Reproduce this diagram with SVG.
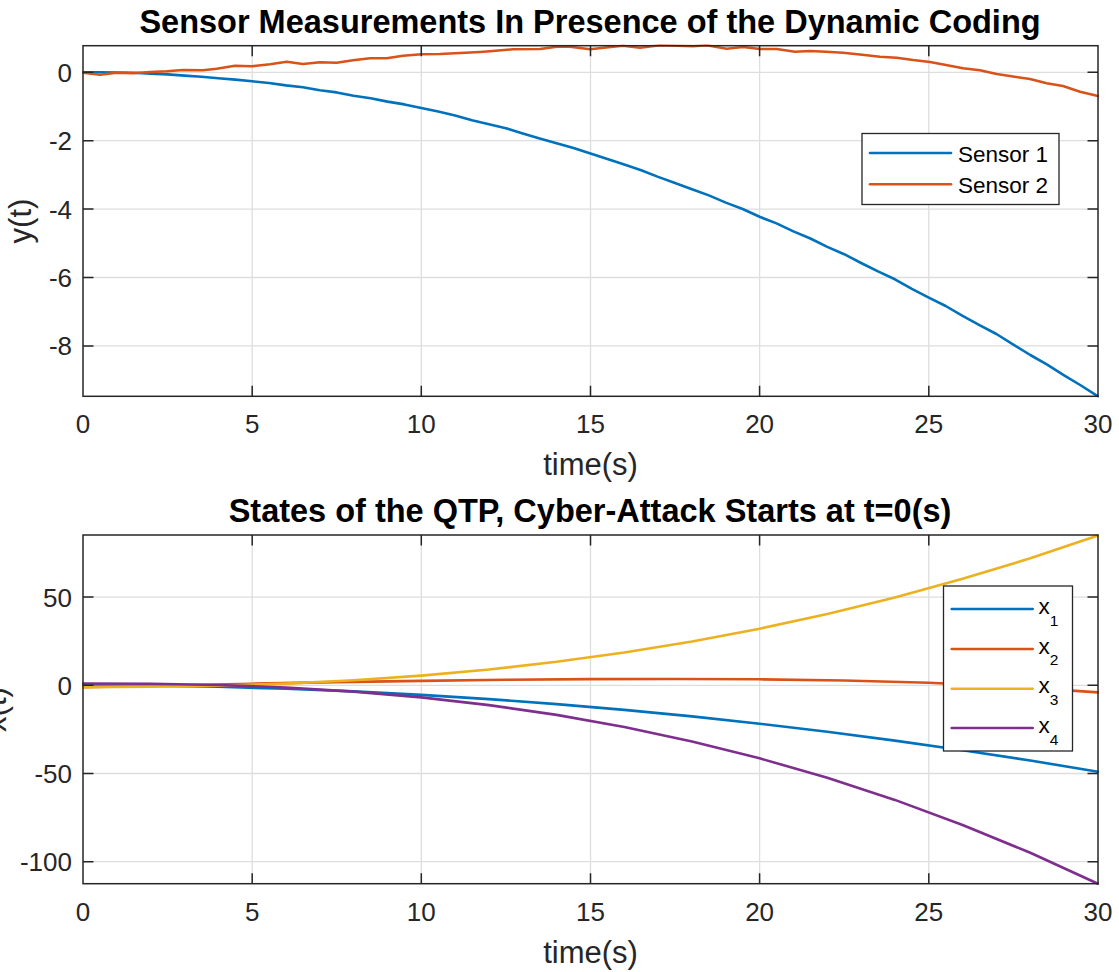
<svg xmlns="http://www.w3.org/2000/svg" width="1119" height="972" viewBox="0 0 1119 972">
  <style>
    text { font-family: "Liberation Sans", Arial, Helvetica, sans-serif; }
    .title { font-size: 32.5px; font-weight: bold; fill: #000; text-anchor: middle; }
    .tick { font-size: 26px; fill: #262626; }
    .xt { text-anchor: middle; }
    .yt { text-anchor: end; }
    .label { font-size: 31px; fill: #262626; text-anchor: middle; }
    .grid { stroke: #dedede; stroke-width: 1.3; fill: none; }
    .axis { stroke: #262626; stroke-width: 1.5; fill: none; }
    .curve { fill: none; stroke-width: 2.6; stroke-linejoin: round; stroke-linecap: round; }
    .legend { fill: #fff; stroke: #262626; stroke-width: 1.3; }
    .legtext { font-size: 22.5px; fill: #000; }
    .c1 { stroke: #0072BD; }
    .c2 { stroke: #D95319; }
    .c3 { stroke: #EDB120; }
    .c4 { stroke: #7E2F8E; }
  </style>
  <defs>
    <clipPath id="clipTop"><rect x="82" y="44.5" width="1017" height="353"/></clipPath>
    <clipPath id="clipBottom"><rect x="82" y="534" width="1017" height="351"/></clipPath>
  </defs>
  <rect width="1119" height="972" fill="#fff"/>

  <!-- upper panel: sensor outputs -->
  <g id="axes-top">
    <text class="title" x="590" y="33">Sensor Measurements In Presence of the Dynamic Coding</text>
    <g id="grid-top">
      <path class="grid" d="M252.2 45.7V396.3M421.3 45.7V396.3M590.5 45.7V396.3M759.6 45.7V396.3M928.8 45.7V396.3M83 72.3H1098M83 140.7H1098M83 209.1H1098M83 277.5H1098M83 345.9H1098"/>
    </g>
    <g id="curves-top" clip-path="url(#clipTop)">
      <polyline class="curve c1" points="83,72.3 100,72.3 116.8,72.6 133.7,72.8 150.7,73.6 167.6,74.4 184.5,75.6 201.4,76.8 218.3,78.2 235.3,79.6 252.2,81.3 269,83 286,85.4 303,87.3 319.8,90.2 336.7,92.4 353.6,95.8 370.6,98.3 387.5,101.6 404.4,104.4 421.3,108 438.2,111.5 455.1,115.4 472,120.3 489,124.3 505.9,128.2 522.8,133.4 539.7,138.4 556.6,143.2 573.5,148 590.5,153.6 607.4,159 624.3,164.6 641.2,170.3 658.1,176.9 675,183 692,189.3 708.9,195.4 725.8,202.6 742.7,209 759.6,216.8 776.5,223.4 793.4,231.4 810.4,238.5 827.3,246.9 844.2,254.2 861.1,263 878,271.4 894.9,279.3 911.9,288.8 928.8,297.6 945.7,306 962.6,315.9 979.5,325.2 996.4,334 1013.4,344.6 1030.3,355 1047.2,364.6 1064.1,375.3 1081,385.5 1098,396.4"/>
      <polyline class="curve c2" points="83,72.7 100,74.7 116.7,72.7 133,73.3 150,72 166.7,71.3 183,70 203,70.3 216.7,68.7 235,65.7 251.7,66.3 270,64.3 286.7,61.7 303,64 320,62.3 336.7,62.7 353,60.3 370,58.3 386.7,58.3 403,55.7 421.7,54.3 440,54 460,53 480,52 490,51.3 513,49.3 540,49 556.7,46.7 570,46.7 590,49.3 606,47.5 623,45.7 640,47.7 660,45.3 676.7,45.7 693,46.3 706.7,45.3 726.7,48.7 743,47 760,49 776.7,49 795,51.7 810,51 826,51.7 843,52.7 860,54.5 880,56.7 896.7,57.7 913,60 930,62 946,65 963,68.3 980,70.3 996.7,74 1013,76.5 1030,79 1046.7,83.3 1063,86 1080,91.7 1098,96"/>
    </g>
    <g id="frame-top">
      <rect class="axis" x="83" y="45.7" width="1015" height="350.6"/>
      <path class="axis" d="M252.2 396.3v-10.5M421.3 396.3v-10.5M590.5 396.3v-10.5M759.6 396.3v-10.5M928.8 396.3v-10.5M252.2 45.7v10.5M421.3 45.7v10.5M590.5 45.7v10.5M759.6 45.7v10.5M928.8 45.7v10.5M83 72.3h10.5M83 140.7h10.5M83 209.1h10.5M83 277.5h10.5M83 345.9h10.5M1098 72.3h-10.5M1098 140.7h-10.5M1098 209.1h-10.5M1098 277.5h-10.5M1098 345.9h-10.5"/>
    </g>
    <g id="ticks-top" class="tick">
      <text class="xt" x="83" y="433">0</text>
      <text class="xt" x="252.2" y="433">5</text>
      <text class="xt" x="421.3" y="433">10</text>
      <text class="xt" x="590.5" y="433">15</text>
      <text class="xt" x="759.6" y="433">20</text>
      <text class="xt" x="928.8" y="433">25</text>
      <text class="xt" x="1098" y="433">30</text>
      <text class="yt" x="72" y="81.8">0</text>
      <text class="yt" x="72" y="150.2">-2</text>
      <text class="yt" x="72" y="218.6">-4</text>
      <text class="yt" x="72" y="287">-6</text>
      <text class="yt" x="72" y="355.4">-8</text>
    </g>
    <text class="label" x="590.5" y="475">time(s)</text>
    <text class="label" transform="translate(31.4,221) rotate(-90)">y(t)</text>
    <g id="legend-top">
      <rect class="legend" x="862" y="133.5" width="197" height="71"/>
      <line class="curve c1" x1="870" y1="153" x2="951" y2="153" stroke-linecap="butt"/>
      <line class="curve c2" x1="870" y1="184.3" x2="951" y2="184.3" stroke-linecap="butt"/>
      <text class="legtext" x="958" y="161.5">Sensor 1</text>
      <text class="legtext" x="958" y="192.8">Sensor 2</text>
    </g>
  </g>

  <!-- lower panel: plant states -->
  <g id="axes-bottom">
    <text class="title" x="590" y="521.7">States of the QTP, Cyber-Attack Starts at t=0(s)</text>
    <g id="grid-bottom">
      <path class="grid" d="M252.2 535V883.7M421.3 535V883.7M590.5 535V883.7M759.6 535V883.7M928.8 535V883.7M83 597.1H1098M83 685.3H1098M83 773.5H1098M83 861.7H1098"/>
    </g>
    <g id="curves-bottom" clip-path="url(#clipBottom)">
      <polyline class="curve c1" points="83,685.3 150.7,685.7 218.3,686.8 286,688.8 353.6,691.4 421.3,694.9 489,699.1 556.6,704.1 624.3,709.9 692,716.4 759.6,723.7 827.3,731.7 894.9,740.6 962.6,750.2 1030.3,760.5 1098,771.7"/>
      <polyline class="curve c2" points="83,687.1 167.6,685.5 252.2,683.7 336.7,682.1 421.3,680.9 505.9,679.8 590.5,679.1 675,679 759.6,679.3 844.2,680.5 928.8,682.8 1013.3,686.7 1098,692.4"/>
      <polyline class="curve c3" points="83,687.1 150.7,686.8 218.3,685.7 286,683.6 353.6,680.3 421.3,675.6 489,669.5 556.6,661.8 624.3,652.5 692,641.5 759.6,628.7 827.3,614 894.9,597.4 962.6,578.8 1030.3,558.3 1098,535.6"/>
      <polyline class="curve c4" points="83,683.5 150.7,683.8 218.3,685 286,687.5 353.6,691.6 421.3,697.4 489,705.1 556.6,714.9 624.3,727 692,741.4 759.6,758.3 827.3,777.8 894.9,799.9 962.6,825 1030.3,852.8 1098,883.7"/>
    </g>
    <g id="frame-bottom">
      <rect class="axis" x="83" y="535" width="1015" height="348.7"/>
      <path class="axis" d="M252.2 883.7v-10.5M421.3 883.7v-10.5M590.5 883.7v-10.5M759.6 883.7v-10.5M928.8 883.7v-10.5M252.2 535v10.5M421.3 535v10.5M590.5 535v10.5M759.6 535v10.5M928.8 535v10.5M83 597.1h10.5M83 685.3h10.5M83 773.5h10.5M83 861.7h10.5M1098 597.1h-10.5M1098 685.3h-10.5M1098 773.5h-10.5M1098 861.7h-10.5"/>
    </g>
    <g id="ticks-bottom" class="tick">
      <text class="xt" x="83" y="920.7">0</text>
      <text class="xt" x="252.2" y="920.7">5</text>
      <text class="xt" x="421.3" y="920.7">10</text>
      <text class="xt" x="590.5" y="920.7">15</text>
      <text class="xt" x="759.6" y="920.7">20</text>
      <text class="xt" x="928.8" y="920.7">25</text>
      <text class="xt" x="1098" y="920.7">30</text>
      <text class="yt" x="72" y="606.6">50</text>
      <text class="yt" x="72" y="694.8">0</text>
      <text class="yt" x="72" y="783">-50</text>
      <text class="yt" x="72" y="871.2">-100</text>
    </g>
    <text class="label" x="590.5" y="962.7">time(s)</text>
    <text class="label" transform="translate(6.4,709.5) rotate(-90)">x(t)</text>
    <g id="legend-bottom">
      <rect class="legend" x="943.5" y="586" width="129" height="165"/>
      <line class="curve c1" x1="951.7" y1="609" x2="1032.7" y2="609" stroke-linecap="butt"/>
      <line class="curve c2" x1="951.7" y1="649" x2="1032.7" y2="649" stroke-linecap="butt"/>
      <line class="curve c3" x1="951.7" y1="688.7" x2="1032.7" y2="688.7" stroke-linecap="butt"/>
      <line class="curve c4" x1="951.7" y1="728" x2="1032.7" y2="728" stroke-linecap="butt"/>
      <text class="legtext" x="1038.5" y="614">x<tspan font-size="15.5" dy="11.5">1</tspan></text>
      <text class="legtext" x="1038.5" y="653.7">x<tspan font-size="15.5" dy="11.5">2</tspan></text>
      <text class="legtext" x="1038.5" y="693.4">x<tspan font-size="15.5" dy="11.5">3</tspan></text>
      <text class="legtext" x="1038.5" y="733">x<tspan font-size="15.5" dy="11.5">4</tspan></text>
    </g>
  </g>
</svg>
